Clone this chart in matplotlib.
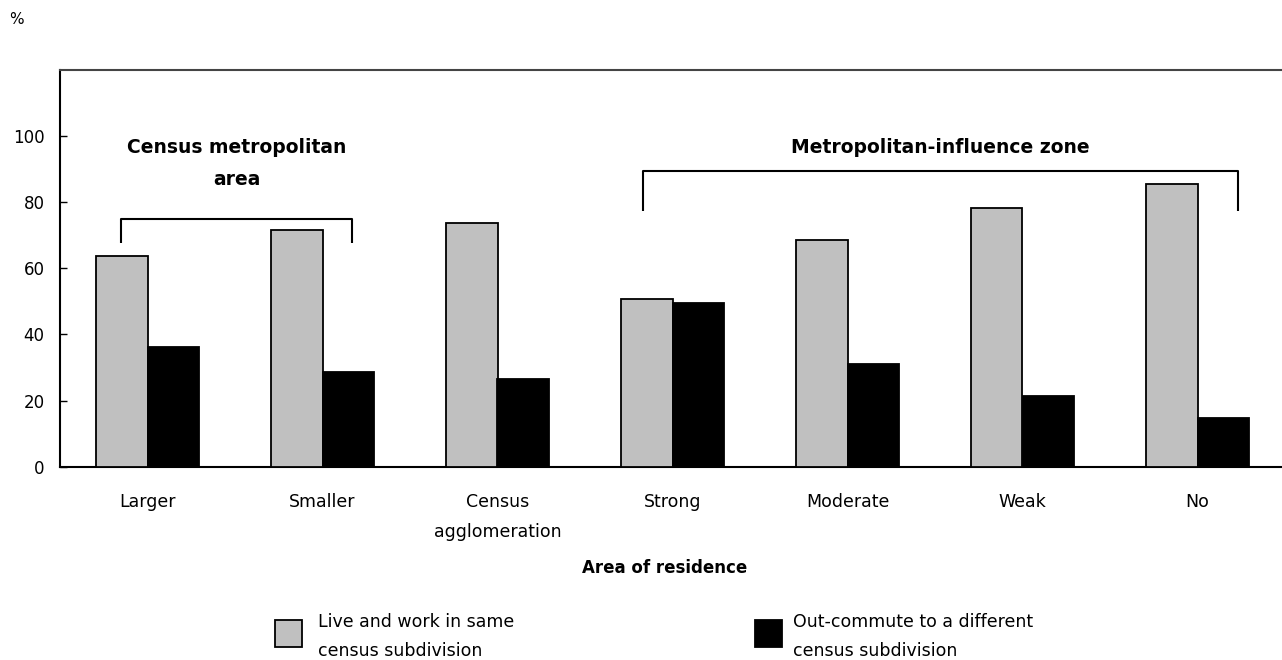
import matplotlib
matplotlib.use("Agg")
import matplotlib.pyplot as plt
from matplotlib.patches import Rectangle
import numpy as np

categories = ["Larger", "Smaller", "Census\nagglomeration", "Strong", "Moderate", "Weak", "No"]
live_work_same = [63.8, 71.6, 73.7, 50.6, 68.6, 78.2, 85.4]
out_commute = [36.2, 28.7, 26.5, 49.5, 31.0, 21.4, 14.6]
series_labels = ["Live and work in same\ncensus subdivision",
                 "Out-commute to a different\ncensus subdivision"]
yticks = [0, 20, 40, 60, 80, 100]
group_labels = ["Census metropolitan\narea", "Metropolitan-influence zone"]
xlabel = "Area of residence"
ylabel = "%"

plt.rcParams["font.family"] = ["DejaVu Sans"]

W, H = 1282, 660
fig = plt.figure(figsize=(W / 100, H / 100), dpi=100)

def fx(px):
    return px / W

def fy(py):
    return 1 - py / H

ax_left, ax_right, ax_top, ax_bottom = 60, 1285, 70, 466.7
ax = fig.add_axes([fx(ax_left), fy(ax_bottom), fx(ax_right - ax_left), (ax_bottom - ax_top) / H])

x = np.arange(len(categories))
bw = 0.294
ax.bar(x - bw / 2, live_work_same, width=bw, color="#c0c0c0", edgecolor="black", linewidth=1.3, zorder=3)
ax.bar(x + bw / 2, out_commute, width=bw, color="black", edgecolor="black", linewidth=1.3, zorder=3)

ax.set_xlim(-0.5, 6.5)
ax.set_ylim(0, 120)
ax.set_yticks(yticks)
ax.set_yticklabels([str(t) for t in yticks], fontsize=12)
ax.tick_params(axis="y", direction="in", length=5, width=1, pad=11, colors="black")
ax.set_xticks(x)
ax.set_xticklabels(categories, fontsize=12.5, linespacing=1.85, va="top")
ax.tick_params(axis="x", length=0, pad=19)

for s in ["left", "bottom"]:
    ax.spines[s].set_linewidth(1.5)
    ax.spines[s].set_color("black")
ax.spines["top"].set_linewidth(1.5)
ax.spines["top"].set_color("#444444")
ax.spines["right"].set_visible(False)

# group brackets
br_kw = dict(color="black", linewidth=1.5, clip_on=False, solid_capstyle="butt")
ax.plot([-0.149, -0.149, 1.171, 1.171], [67.7, 74.9, 74.9, 67.7], **br_kw)
ax.plot([2.834, 2.834, 6.229, 6.229], [77.3, 89.4, 89.4, 77.3], **br_kw)
ax.text(0.51, 99.3, group_labels[0], ha="center", va="top", fontsize=13.5,
        fontweight="bold", linespacing=1.85)
ax.text(4.53, 99.3, group_labels[1], ha="center", va="top", fontsize=13.5,
        fontweight="bold")

fig.text(fx(665), fy(568), xlabel, ha="center", va="center", fontsize=12, fontweight="bold")
fig.text(fx(9), fy(20), ylabel, ha="left", va="center", fontsize=11)

# legend
colors = ["#c0c0c0", "black"]
patch_x = [275, 755]
text_x = [318, 793]
for px, tx, c, lab in zip(patch_x, text_x, colors, series_labels):
    fig.add_artist(Rectangle((fx(px), fy(647)), fx(27), 27 / H, facecolor=c,
                             edgecolor="black", linewidth=1.3, transform=fig.transFigure))
    fig.text(fx(tx), fy(613), lab, ha="left", va="top", fontsize=12.5, linespacing=1.75)

fig.savefig("out.png", dpi=100, facecolor="white")
